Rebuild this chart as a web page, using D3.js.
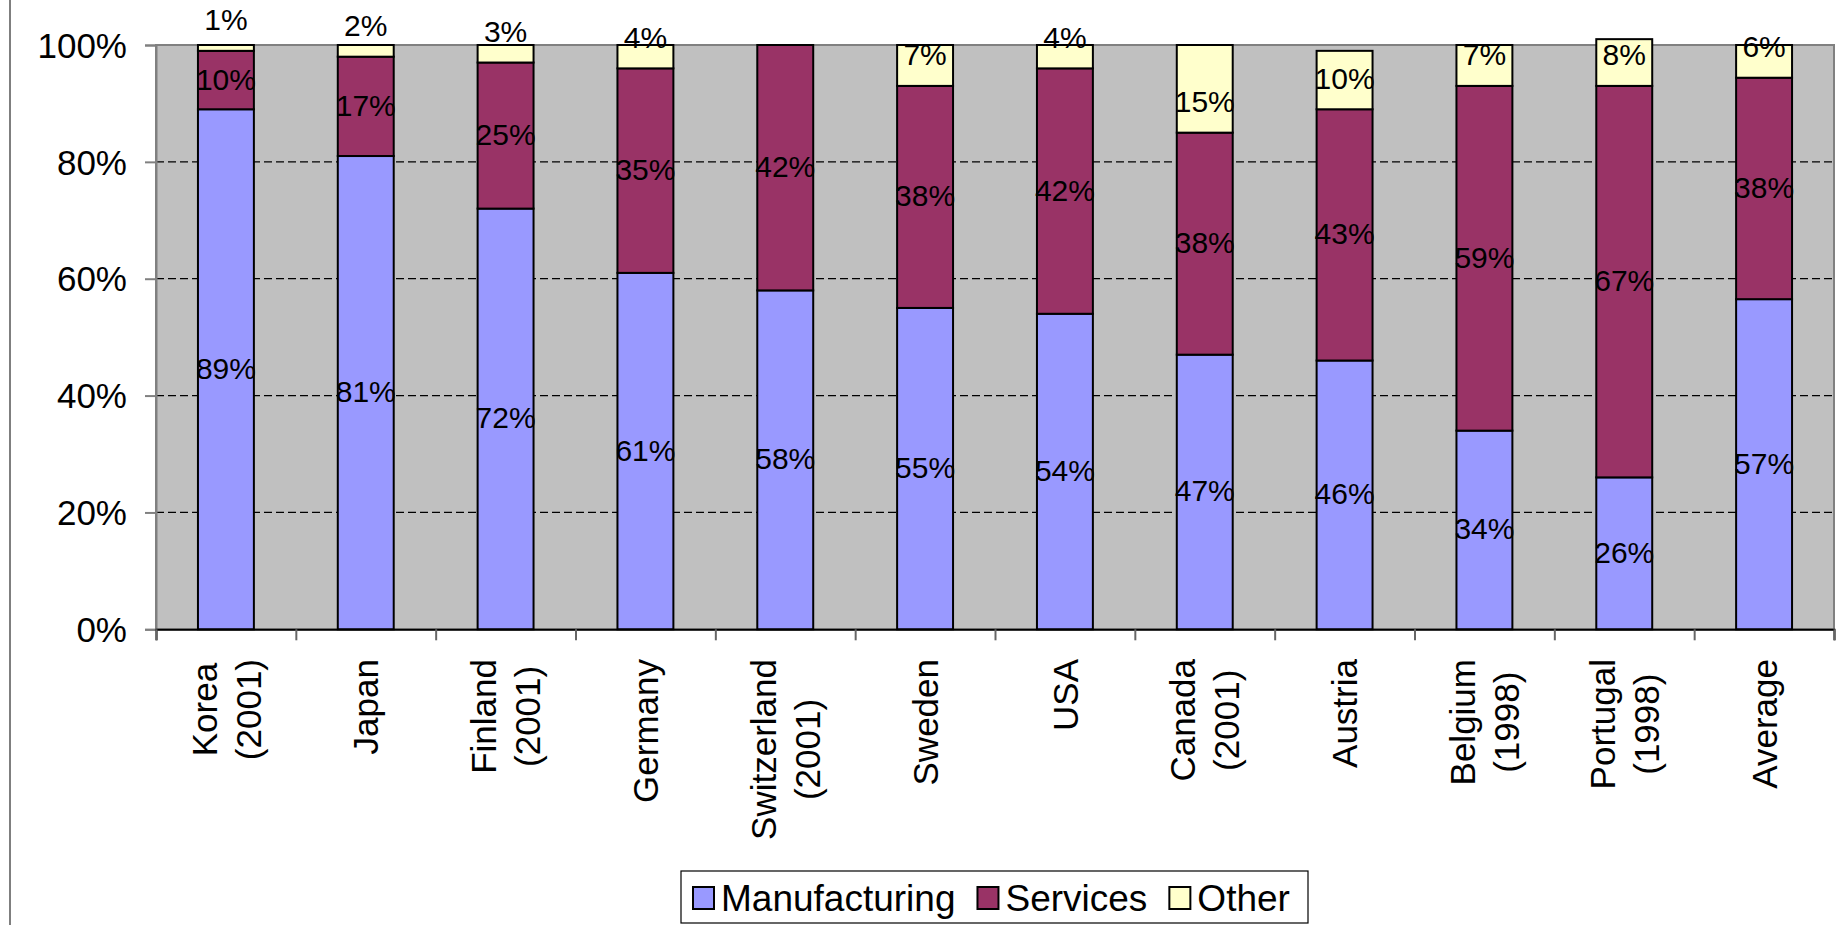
<!DOCTYPE html>
<html lang="en">
<head>
  <meta charset="UTF-8">
  <title>Manufacturing / Services / Other</title>
  <script src="https://d3js.org/d3.v7.min.js"></script>
  <style>
    body { margin: 0; background: #fff; }
    text { font-family: "Liberation Sans", Arial, sans-serif; fill: #000; }
  </style>
</head>
<body>
  <div id="chart"></div>

  <script type="text/javascript">

  // categories (line breaks as in the original axis labels)
  var categories = ["Korea\n(2001)", "Japan", "Finland\n(2001)", "Germany", "Switzerland\n(2001)",
    "Sweden", "USA", "Canada\n(2001)", "Austria", "Belgium\n(1998)", "Portugal\n(1998)", "Average"];

  var manufacturing = [89, 81, 72, 61, 58, 55, 54, 47, 46, 34, 26, 56.5];
  var services      = [10, 17, 25, 35, 42, 38, 42, 38, 43, 59, 67, 37.9];
  var other         = [1, 2, 3, 4, 0, 7, 4, 15, 10, 7, 8, 5.6];

  var seriesNames = ["Manufacturing", "Services", "Other"];
  var seriesColors = ["#9999FF", "#993366", "#FFFFCC"];
  var yTicks = [0, 20, 40, 60, 80, 100];

  var w = 1836, h = 925;
  var plot = {left: 156, right: 1834, top: 45, bottom: 629.3};

  var svg = d3.select("#chart").append("svg")
    .attr("width", w)
    .attr("height", h);

  // table for d3.stack
  var dataset = categories.map(function(c, i) {
    return {cat: c, Manufacturing: manufacturing[i], Services: services[i], Other: other[i]};
  });

  var x = d3.scaleBand()
    .domain(categories)
    .range([plot.left, plot.right])
    .paddingInner(0.6)
    .paddingOuter(0.3);

  var xEdge = d3.scaleLinear()
    .domain([0, categories.length])
    .range([plot.left, plot.right]);

  var y = d3.scaleLinear()
    .domain([0, 100])
    .range([plot.bottom, plot.top]);

  var color = d3.scaleOrdinal().domain(seriesNames).range(seriesColors);

  // outer chart border (left edge only visible)
  svg.append("line")
    .attr("x1", 10).attr("x2", 10).attr("y1", 0).attr("y2", h)
    .attr("stroke", "#555").attr("stroke-width", 1.5);

  // plot area
  svg.append("rect")
    .attr("x", plot.left).attr("y", plot.top)
    .attr("width", plot.right - plot.left)
    .attr("height", plot.bottom - plot.top)
    .attr("fill", "#C0C0C0")
    .attr("stroke", "#808080")
    .attr("stroke-width", 2);

  // dashed gridlines
  svg.append("g").selectAll("line")
    .data(yTicks.filter(function(d) { return d > 0 && d < 100; }))
    .enter().append("line")
    .attr("x1", plot.left).attr("x2", plot.right)
    .attr("y1", function(d) { return y(d); })
    .attr("y2", function(d) { return y(d); })
    .attr("stroke", "#000")
    .attr("stroke-width", 1.3)
    .attr("stroke-dasharray", "8,4");

  var stack = d3.stack().keys(seriesNames);
  var series = stack(dataset);

  var groups = svg.append("g").selectAll("g")
    .data(series)
    .enter().append("g")
    .attr("fill", function(d) { return color(d.key); });

  groups.selectAll("rect")
    .data(function(d) { return d; })
    .enter().append("rect")
    .filter(function(d) { return d[1] > d[0]; })
    .attr("x", function(d) { return x(d.data.cat); })
    .attr("y", function(d) { return y(d[1]); })
    .attr("width", x.bandwidth())
    .attr("height", function(d) { return y(d[0]) - y(d[1]); })
    .attr("stroke", "#000")
    .attr("stroke-width", 2);

  // y axis
  var yAxis = svg.append("g")
    .attr("transform", "translate(" + plot.left + ",0)")
    .call(d3.axisLeft(y).tickValues(yTicks).tickFormat(function(d) { return d + "%"; })
      .tickSize(11).tickPadding(18));
  yAxis.select(".domain").attr("stroke", "#808080").attr("stroke-width", 2);
  yAxis.selectAll(".tick line").attr("stroke", "#808080").attr("stroke-width", 2);
  yAxis.selectAll(".tick text")
    .style("font-family", "'Liberation Sans', Arial, sans-serif")
    .style("font-size", "35px")
    .attr("fill", "#000")
    .attr("dy", "0.35em");

  // x axis (ticks between categories)
  var xAxis = svg.append("g")
    .attr("transform", "translate(0," + plot.bottom + ")")
    .call(d3.axisBottom(xEdge).ticks(categories.length).tickSize(11).tickFormat(""));
  xAxis.select(".domain").attr("stroke", "#000").attr("stroke-width", 2);
  xAxis.selectAll(".tick line").attr("stroke", "#666").attr("stroke-width", 2);

  // category labels, rotated, top aligned, lines centred on each other
  var catTop = 659, lineGap = 44, catFont = 35;
  categories.forEach(function(c) {
    var lines = c.split("\n");
    var cx = x(c) + x.bandwidth() / 2;
    var g = svg.append("g")
      .attr("transform", "translate(" + cx + "," + catTop + ") rotate(-90)");
    var texts = g.selectAll("text")
      .data(lines)
      .enter().append("text")
      .attr("text-anchor", "middle")
      .style("font-size", catFont + "px")
      .attr("y", function(d, i) { return (i - (lines.length - 1) / 2) * lineGap + catFont * 0.36; })
      .text(function(d) { return d; });
    var maxW = 0;
    texts.each(function() { maxW = Math.max(maxW, this.getComputedTextLength()); });
    texts.attr("x", -maxW / 2);
  });

  // data labels
  var labelFont = 30;
  groups.each(function(s) {
    d3.select(this.parentNode).append("g").selectAll("text")
      .data(s.filter(function(d) { return d[1] > d[0]; }))
      .enter().append("text")
      .attr("text-anchor", "middle")
      .style("font-size", labelFont + "px")
      .attr("x", function(d) { return x(d.data.cat) + x.bandwidth() / 2; })
      .attr("y", function(d) {
        if (s.key === "Other") return y(d[0]) - 31;
        return (y(d[0]) + y(d[1])) / 2 - 1;
      })
      .attr("dy", "0.35em")
      .text(function(d) { return Math.round(d[1] - d[0]) + "%"; });
  });

  // legend
  var legend = svg.append("g");
  var legBox = {x: 681, y: 871, w: 627, h: 52};
  legend.append("rect")
    .attr("x", legBox.x).attr("y", legBox.y)
    .attr("width", legBox.w).attr("height", legBox.h)
    .attr("fill", "#fff").attr("stroke", "#000").attr("stroke-width", 1.2);

  var lx = legBox.x + 12, sw = 21, sh = 22, legFont = 37, cy = legBox.y + legBox.h / 2 + 1;
  seriesNames.forEach(function(name) {
    legend.append("rect")
      .attr("x", lx).attr("y", cy - sh / 2)
      .attr("width", sw).attr("height", sh)
      .attr("fill", color(name))
      .attr("stroke", "#000").attr("stroke-width", 2);
    var t = legend.append("text")
      .attr("x", lx + sw + 7)
      .attr("y", cy)
      .attr("dy", "0.36em")
      .style("font-size", legFont + "px")
      .text(name);
    lx += sw + 7 + t.node().getComputedTextLength() + 22;
  });

  </script>
</body>
</html>
